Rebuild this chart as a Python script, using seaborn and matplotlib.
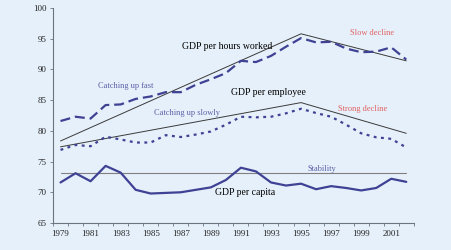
import seaborn as sns
import matplotlib.pyplot as plt
from matplotlib.ticker import MultipleLocator
import pandas as pd

# Data
years = list(range(1979, 2003))
gdp_hours = [81.6, 82.3, 82.0, 84.2, 84.3, 85.2, 85.6, 86.3, 86.3, 87.5, 88.4, 89.4,
             91.4, 91.2, 92.2, 93.7, 95.1, 94.4, 94.5, 93.4, 92.8, 92.9, 93.6, 91.6]
gdp_employee = [76.9, 77.7, 77.5, 79.05, 78.6, 78.1, 78.1, 79.3, 79.0, 79.4, 79.9, 81.0,
                82.3, 82.2, 82.3, 82.85, 83.6, 82.9, 82.3, 81.0, 79.6, 78.95, 78.7, 77.3]
gdp_capita = [71.6, 73.1, 71.8, 74.3, 73.2, 70.4, 69.8, 69.9, 70.0, 70.4, 70.8, 72.0,
              74.0, 73.4, 71.6, 71.1, 71.4, 70.5, 71.0, 70.7, 70.3, 70.7, 72.2, 71.7]

trend_years = [1979, 1995, 2002]
trend_hours = [78.35, 95.8, 91.4]
trend_employee = [77.4, 84.6, 79.6]
stability_years = [1979, 2002]
stability = [73.1, 73.1]

bg = "#e6f0fa"
line_col = "#3f4294"
trend_col = "#3a3a3a"

sns.set_style("ticks")
plt.rcParams["font.family"] = ["Liberation Serif", "DejaVu Serif"]

fig = plt.figure(figsize=(4.51, 2.5), dpi=100, facecolor=bg)
ax = fig.add_axes([0.1175, 0.108, 0.80, 0.86], facecolor=bg)

df = pd.DataFrame({"year": years, "hours": gdp_hours,
                   "employee": gdp_employee, "capita": gdp_capita})

# trend lines
sns.lineplot(x=trend_years, y=trend_hours, ax=ax, color=trend_col, lw=0.7)
sns.lineplot(x=trend_years, y=trend_employee, ax=ax, color=trend_col, lw=0.7)
sns.lineplot(x=stability_years, y=stability, ax=ax, color="#808080", lw=0.8)

# series
sns.lineplot(data=df, x="year", y="hours", ax=ax, color=line_col, lw=1.6,
             linestyle=(0, (4.5, 2.2)))
sns.lineplot(data=df, x="year", y="employee", ax=ax, color=line_col, lw=1.6,
             linestyle=(0, (1.3, 2.0)))
sns.lineplot(data=df, x="year", y="capita", ax=ax, color=line_col, lw=1.6)

# labels
ax.text(1990.1, 93.8, "GDP per hours worked", fontsize=7, ha="center", va="center", color="black")
ax.text(1992.8, 86.2, "GDP per employee", fontsize=7, ha="center", va="center", color="black")
ax.text(1991.25, 69.9, "GDP per capita", fontsize=7, ha="center", va="center", color="black")
ax.text(1983.35, 87.35, "Catching up fast", fontsize=6, ha="center", va="center", color="#5a5fa5")
ax.text(1987.4, 82.95, "Catching up slowly", fontsize=6, ha="center", va="center", color="#5a5fa5")
ax.text(1996.4, 73.75, "Stability", fontsize=6, ha="center", va="center", color="#5a5fa5")
ax.text(1999.7, 96.0, "Slow decline", fontsize=6, ha="center", va="center", color="#e06060")
ax.text(1999.1, 83.5, "Strong decline", fontsize=6, ha="center", va="center", color="#e06060")

ax.set_xlim(1978.5, 2002.5)
ax.set_ylim(65, 100)
ax.set_xticks(list(range(1979, 2003, 2)))
ax.set_xticks([y + 0.5 for y in range(1978, 2003)], minor=True)
ax.yaxis.set_major_locator(MultipleLocator(5))
ax.tick_params(axis="x", which="major", length=0, labelsize=6.5, pad=5)
ax.tick_params(axis="x", which="minor", length=2.5, width=0.6, color="#6b7480")
ax.tick_params(axis="y", length=2.5, width=0.6, color="#6b7480", labelsize=6.5, pad=2)
ax.set_xlabel("")
ax.set_ylabel("")
for side in ["top", "right"]:
    ax.spines[side].set_visible(False)
for side in ["left", "bottom"]:
    ax.spines[side].set_color("#6b7480")
    ax.spines[side].set_linewidth(0.8)

fig.savefig("out.png", dpi=100, facecolor=bg)
